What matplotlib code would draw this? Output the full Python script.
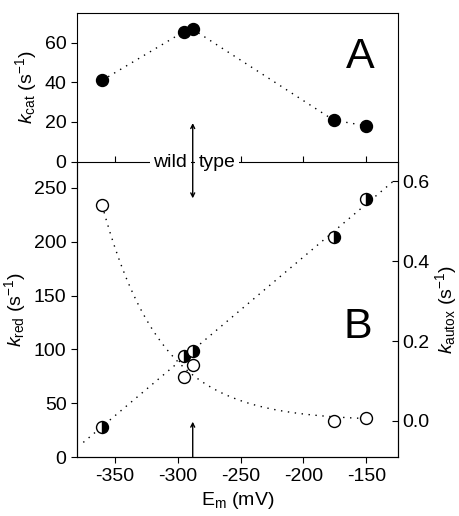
import numpy as np
import matplotlib.pyplot as plt

plt.rcParams['font.family'] = ['Liberation Sans', 'DejaVu Sans']
plt.rcParams['mathtext.fontset'] = 'custom'
plt.rcParams['mathtext.rm'] = 'Liberation Sans'
plt.rcParams['mathtext.it'] = 'Liberation Sans:italic'
plt.rcParams['font.size'] = 14
plt.rcParams['axes.unicode_minus'] = False

# panel A: turnover number
em_cat = [-360, -295, -288, -176, -150]
kcat = [41, 65.6, 66.8, 20.9, 18.0]

# panel B: reduction rate (left) and autoxidation rate (right)
em_b = [-360, -295, -288, -176, -150]
kred = [28.4, 94.2, 98.6, 204, 239.2]
kautox = [0.540, 0.110, 0.139, 0.001, 0.0075]

# exponential decay fit drawn through k_autox
autox_amp = 0.54
autox_tau = 46.6
wild_type_em = -288

fig = plt.figure(figsize=(4.59, 5.16), dpi=100)
axb = fig.add_axes([0.1678, 0.1138, 0.6987, 0.5732])
axa = fig.add_axes([0.1678, 0.687, 0.6987, 0.2878])
axa.set_zorder(5)
axa.patch.set_alpha(0)

dots = (0, (1, 4))

# ---- panel A
axa.plot(em_cat, kcat, linestyle=dots, color='black', lw=1)
axa.plot(em_cat, kcat, 'o', color='black', ms=8.6, ls='none')
axa.set_xlim(-380, -125)
axa.set_ylim(0, 75)
axa.set_yticks([0, 20, 40, 60])
axa.set_xticks([-350, -300, -250, -200, -150])
axa.tick_params(axis='x', direction='in', labelbottom=False, length=4)
axa.tick_params(axis='y', direction='out', length=4)
axa.set_ylabel(r'$k_{\rm cat}$ (s$^{-1}$)', labelpad=4)
axa.text(0.882, 0.63, 'A', transform=axa.transAxes, fontsize=31,
         ha='center', va='baseline')
axa.text(wild_type_em - 4.5, -0.5, 'wild', ha='right', va='center',
         bbox=dict(facecolor='white', edgecolor='none', pad=2.5), zorder=10,
         clip_on=False)
axa.text(wild_type_em + 4.5, -0.5, 'type', ha='left', va='center',
         bbox=dict(facecolor='white', edgecolor='none', pad=2.5), zorder=10,
         clip_on=False)
axa.annotate('', xy=(wild_type_em, 19.4), xytext=(wild_type_em, -18.6),
             arrowprops=dict(arrowstyle='<->', lw=1, color='black',
                             shrinkA=0, shrinkB=0, mutation_scale=7),
             annotation_clip=False, zorder=11)

# ---- panel B
slope, icpt = np.polyfit(em_b, kred, 1)
xl = np.array([-375, -127])
axb.plot(xl, slope * xl + icpt, linestyle=dots, color='black', lw=1)
axb.plot(em_b, kred, 'o', ms=8.6, ls='none', color='black', fillstyle='right',
         markerfacecolor='black', markerfacecoloralt='white',
         markeredgecolor='black', zorder=4)
axb.set_xlim(-380, -125)
axb.set_ylim(0, 274.3)
axb.set_xticks([-350, -300, -250, -200, -150])
axb.set_yticks([0, 50, 100, 150, 200, 250])
axb.tick_params(direction='out', length=4)
axb.spines['top'].set_visible(False)
axb.set_ylabel(r'$k_{\rm red}$ (s$^{-1}$)')
axb.set_xlabel(r'E$_{\rm m}$ (mV)')
axb.text(0.876, 0.403, 'B', transform=axb.transAxes, fontsize=31,
         ha='center', va='baseline')
axb.annotate('', xy=(wild_type_em, 33), xytext=(wild_type_em, 0),
             arrowprops=dict(arrowstyle='->', lw=1, color='black',
                             shrinkA=0, shrinkB=0, mutation_scale=7))

axr = axb.twinx()
xc = np.linspace(-360, -150, 200)
axr.plot(xc, autox_amp * np.exp(-(xc + 360) / autox_tau), linestyle=dots,
         color='black', lw=1)
axr.plot(em_b, kautox, 'o', ms=8.6, ls='none', markerfacecolor='white',
         markeredgecolor='black')
axr.set_ylim(-0.091, 0.650)
axr.set_yticks([0.0, 0.2, 0.4, 0.6])
axr.set_yticklabels(['0.0', '0.2', '0.4', '0.6'])
axr.tick_params(direction='in', length=4)
axr.spines['top'].set_visible(False)
axr.set_ylabel(r'$k_{\rm autox}$ (s$^{-1}$)', labelpad=2)

fig.savefig('out.png', dpi=100)
